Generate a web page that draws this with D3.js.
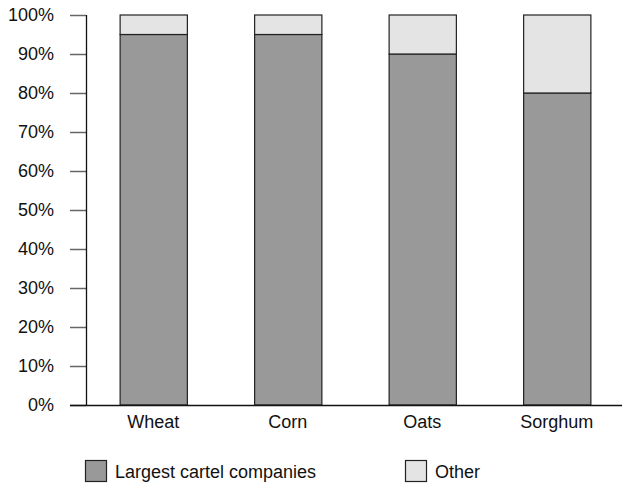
<!DOCTYPE html>
<html><head><meta charset="utf-8">
<script src="https://cdn.jsdelivr.net/npm/d3@7"></script>
<style>body{margin:0;background:#fff}text{font-family:"Liberation Sans",Arial,sans-serif;fill:#111}</style>
</head><body><svg id="c" width="622" height="484"></svg>
<script>
const categories = ["Wheat","Corn","Oats","Sorghum"];
const seriesNames = ["Largest cartel companies","Other"];
const largest = [95,95,90,80];
const other = [5,5,10,20];
const yTicks = [0,10,20,30,40,50,60,70,80,90,100];
const colors = ["#999999","#e4e4e4"];
const FS = "18px";

const svg = d3.select("#c");
const x = d3.scaleBand().domain(categories).range([86,624]).paddingInner(0.5).paddingOuter(0.25);
const y = d3.scaleLinear().domain([0,100]).range([405,15]);

const data = categories.map((c,i)=>({cat:c, largest:largest[i], other:other[i]}));
const stack = d3.stack().keys(["largest","other"])(data);

// y ticks
const ya = svg.append("g").attr("transform","translate(86,0)")
  .call(d3.axisLeft(y).tickValues(yTicks).tickFormat(d=>d+"%").tickSize(16).tickPadding(16));
ya.select(".domain").remove();
ya.selectAll(".tick line").attr("stroke","#666").attr("stroke-width",1.5);
ya.selectAll(".tick text").style("font-size",FS).attr("font-family","Liberation Sans, Arial, sans-serif").attr("fill","#111");
svg.append("line").attr("x1",86.5).attr("x2",86.5).attr("y1",y(100)).attr("y2",y(0)).attr("stroke","#111").attr("stroke-width",1.3);

// bars
stack.forEach((s,k)=>{
  svg.append("g").selectAll("rect").data(s).join("rect")
    .attr("x",d=>x(d.data.cat)+0.5).attr("width",x.bandwidth())
    .attr("y",d=>y(d[1])).attr("height",d=>y(d[0])-y(d[1]))
    .attr("fill",colors[k]).attr("stroke","#222").attr("stroke-width",1.2);
});

// baseline
svg.append("line").attr("x1",70).attr("x2",622).attr("y1",405.5).attr("y2",405.5).attr("stroke","#111").attr("stroke-width",1.3);

// x labels
const xa = svg.append("g").attr("transform","translate(0,405)")
  .call(d3.axisBottom(x).tickSize(0).tickPadding(10));
xa.select(".domain").remove();
xa.selectAll(".tick text").style("font-size",FS).attr("font-family","Liberation Sans, Arial, sans-serif").attr("fill","#111");

// legend
const legX = [85,405];
seriesNames.forEach((n,i)=>{
  const g = svg.append("g").attr("transform",`translate(${legX[i]},460)`);
  g.append("rect").attr("x",0.5).attr("y",0.5).attr("width",21).attr("height",21)
    .attr("fill",colors[i]).attr("stroke","#222").attr("stroke-width",1.2);
  g.append("text").attr("x",30).attr("y",18).style("font-size",FS).text(n);
});
</script></body></html>
